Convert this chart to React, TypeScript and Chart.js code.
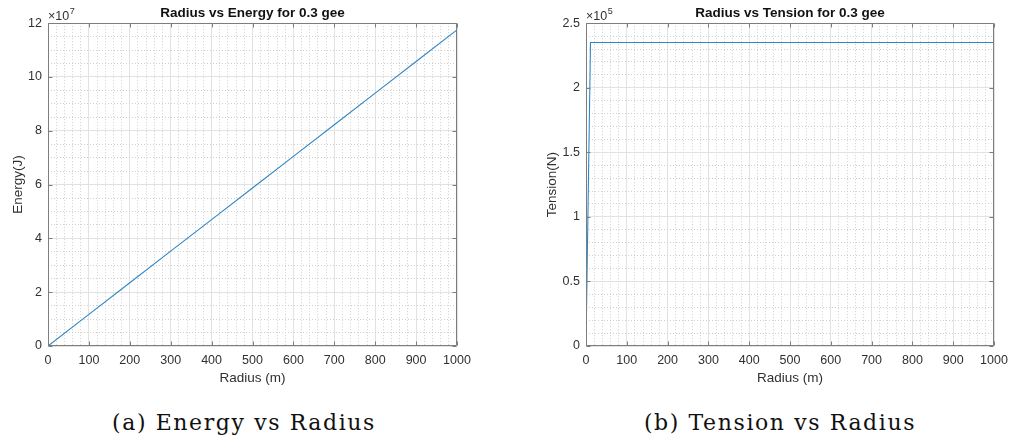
import React, { useEffect, useRef } from 'react';
import { Chart, registerables } from 'chart.js';
Chart.register(...registerables);

// ---------- data ----------
const radiusTicks = [0, 100, 200, 300, 400, 500, 600, 700, 800, 900, 1000];

const energyRadius = [0, 100, 200, 300, 400, 500, 600, 700, 800, 900, 1000];
// Energy in units of 1e7 J
const energyE7 = [0, 1.175, 2.35, 3.525, 4.7, 5.875, 7.05, 8.225, 9.4, 10.575, 11.75];
const energyTicks = [0, 2, 4, 6, 8, 10, 12];

const tensionRadius = [0, 11, 200, 400, 600, 800, 1000];
// Tension in units of 1e5 N
const tensionE5 = [0, 2.35, 2.35, 2.35, 2.35, 2.35, 2.35];
const tensionTicks = [0, 0.5, 1, 1.5, 2, 2.5];

const FONT = "'Liberation Sans', Arial, Helvetica, sans-serif";
const TEXT = '#303030';
const LINE = '#2f86c4';
const MAJOR_GRID = '#e2e2e2';
const MINOR_GRID = '#cfcfcf';
const BOX = '#7d7d7d';

const isMultiple = (v: number, step: number) => Math.abs(v / step - Math.round(v / step)) < 1e-6;

const boxPlugin = {
  id: 'matlabBox',
  afterDatasetsDraw(chart: any, _args: any, opts: any) {
    const { ctx, chartArea, scales } = chart;
    const { left, right, top, bottom } = chartArea;
    const L = Math.round(left) + 0.5;
    const R = Math.round(right) - 0.5;
    const T = Math.round(top) + 0.5;
    const B = Math.round(bottom) - 0.5;
    ctx.save();
    ctx.strokeStyle = BOX;
    ctx.lineWidth = 1;
    ctx.beginPath();
    ctx.moveTo(L, T); ctx.lineTo(R, T); ctx.lineTo(R, B); ctx.lineTo(L, B); ctx.closePath();
    const tl = 4;
    scales.x.ticks.forEach((t: any) => {
      const px = Math.round(scales.x.getPixelForValue(t.value)) + 0.5;
      ctx.moveTo(px, B); ctx.lineTo(px, B - tl);
      ctx.moveTo(px, T); ctx.lineTo(px, T + tl);
    });
    scales.y.ticks.forEach((t: any) => {
      const py = Math.round(scales.y.getPixelForValue(t.value)) + 0.5;
      ctx.moveTo(L, py); ctx.lineTo(L + tl, py);
      ctx.moveTo(R, py); ctx.lineTo(R - tl, py);
    });
    ctx.stroke();
    // exponent label
    if (opts && opts.exponent) {
      ctx.fillStyle = TEXT;
      ctx.textBaseline = 'alphabetic';
      ctx.textAlign = 'left';
      ctx.font = `12.5px ${FONT}`;
      const base = '\u00d710';
      ctx.fillText(base, left, top - 3);
      const w = ctx.measureText(base).width;
      ctx.font = `9px ${FONT}`;
      ctx.fillText(opts.exponent, left + w + 0.5, top - 9);
    }
    ctx.restore();
  },
};

type PanelProps = {
  xs: number[];
  ys: number[];
  yTicks: number[];
  yMax: number;
  yMinorStep: number;
  yMajorStep: number;
  title: string;
  yTitle: string;
  exponent: string;
  yAxisWidth: number;
  yTitlePad: number;
  padRight: number;
};

function Panel(p: PanelProps) {
  const ref = useRef<HTMLCanvasElement>(null);
  useEffect(() => {
    if (!ref.current) return;
    const tickFont = { family: FONT, size: 12.5 };
    const chart = new Chart(ref.current, {
      type: 'line',
      data: {
        datasets: [
          {
            data: p.xs.map((x, i) => ({ x, y: p.ys[i] })),
            borderColor: LINE,
            borderWidth: 1.1,
            pointRadius: 0,
            fill: false,
            tension: 0,
          },
        ],
      },
      plugins: [boxPlugin],
      options: {
        animation: false,
        responsive: false,
        devicePixelRatio: 1,
        layout: { padding: { left: 0, right: p.padRight, top: 0, bottom: 9 } },
        plugins: {
          legend: { display: false },
          tooltip: { enabled: false },
          title: {
            display: true,
            text: p.title,
            fullSize: false,
            color: '#111',
            font: { family: FONT, size: 13.5, weight: 'bold' },
            padding: { top: 5, bottom: 2 },
          },
          matlabBox: { exponent: p.exponent },
        } as any,
        scales: {
          x: {
            type: 'linear',
            min: 0,
            max: 1000,
            afterBuildTicks: (s: any) => { s.ticks = radiusTicks.map((v) => ({ value: v })); },
            ticks: { font: tickFont, color: TEXT, padding: 7, maxRotation: 0, autoSkip: false, callback: (v: any) => String(v) },
            grid: { color: MAJOR_GRID, drawTicks: false, lineWidth: 1 },
            border: { display: false },
            title: { display: true, text: 'Radius (m)', color: TEXT, font: { family: FONT, size: 13.5 }, padding: { top: 0, bottom: 0 } },
            afterFit: (s: any) => { s.height = 40; s.paddingLeft = 0; s.paddingRight = 0; },
          },
          xm: {
            type: 'linear',
            position: 'bottom',
            min: 0,
            max: 1000,
            ticks: { display: false, stepSize: 20 },
            grid: {
              drawTicks: false,
              lineWidth: 1,
              color: (c: any) => (c.tick && isMultiple(c.tick.value, 100) ? 'rgba(0,0,0,0)' : MINOR_GRID),
            },
            border: { display: false, dash: [1, 2] },
            afterFit: (s: any) => { s.height = 0; s.paddingLeft = 0; s.paddingRight = 0; },
          },
          y: {
            type: 'linear',
            min: 0,
            max: p.yMax,
            afterBuildTicks: (s: any) => { s.ticks = p.yTicks.map((v) => ({ value: v })); },
            ticks: { font: tickFont, color: TEXT, padding: 6, callback: (v: any) => String(v) },
            grid: { color: MAJOR_GRID, drawTicks: false, lineWidth: 1 },
            border: { display: false },
            title: { display: true, text: p.yTitle, color: TEXT, font: { family: FONT, size: 13.5 }, padding: { top: p.yTitlePad, bottom: 0 } },
            afterFit: (s: any) => { s.width = p.yAxisWidth; s.paddingTop = 0; s.paddingBottom = 0; },
          },
          ym: {
            type: 'linear',
            position: 'left',
            min: 0,
            max: p.yMax,
            ticks: { display: false, stepSize: p.yMinorStep },
            grid: {
              drawTicks: false,
              lineWidth: 1,
              color: (c: any) => (c.tick && isMultiple(c.tick.value, p.yMajorStep) ? 'rgba(0,0,0,0)' : MINOR_GRID),
            },
            border: { display: false, dash: [1, 2] },
            afterFit: (s: any) => { s.width = 0; s.paddingTop = 0; s.paddingBottom = 0; },
          },
        } as any,
      },
    });
    return () => chart.destroy();
  }, []);
  return <canvas ref={ref} width={505} height={395} style={{ display: 'block', width: 505, height: 395 }} />;
}

const captionStyle: React.CSSProperties = {
  position: 'absolute',
  top: 411,
  transform: 'translateX(-50%)',
  whiteSpace: 'nowrap',
  fontFamily: "'DejaVu Serif', 'Liberation Serif', serif",
  fontSize: 22,
  lineHeight: '24px',
  letterSpacing: '1.6px',
  color: '#111',
};

export default function App() {
  return (
    <div style={{ position: 'absolute', left: 0, top: 0, width: 1010, height: 439, background: '#fff', overflow: 'hidden' }}>
      <div style={{ position: 'absolute', left: 0, top: 0 }}>
        <Panel
          xs={energyRadius}
          ys={energyE7}
          yTicks={energyTicks}
          yMax={12}
          yMinorStep={0.5}
          yMajorStep={2}
          title="Radius vs Energy for 0.3 gee"
          yTitle="Energy(J)"
          exponent="7"
          yAxisWidth={48}
          yTitlePad={10}
          padRight={48}
        />
      </div>
      <div style={{ position: 'absolute', left: 505, top: 0 }}>
        <Panel
          xs={tensionRadius}
          ys={tensionE5}
          yTicks={tensionTicks}
          yMax={2.5}
          yMinorStep={0.1}
          yMajorStep={0.5}
          title="Radius vs Tension for 0.3 gee"
          yTitle="Tension(N)"
          exponent="5"
          yAxisWidth={81}
          yTitlePad={39}
          padRight={16}
        />
      </div>
      <div style={{ ...captionStyle, left: 244 }}>(a) Energy vs Radius</div>
      <div style={{ ...captionStyle, left: 780 }}>(b) Tension vs Radius</div>
    </div>
  );
}
